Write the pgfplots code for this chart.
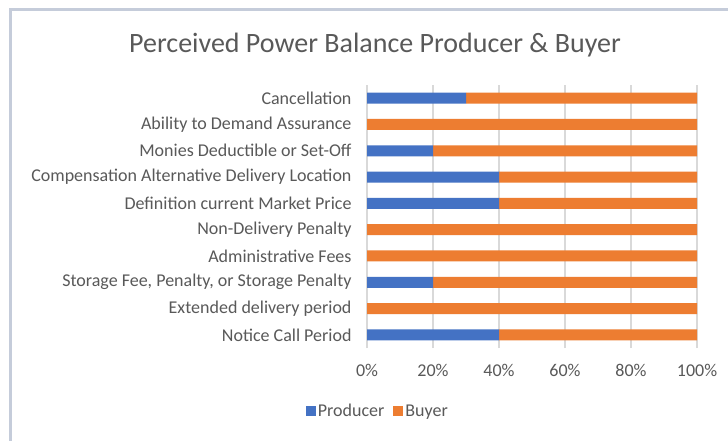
\documentclass[border=0pt]{standalone}
\usepackage{pgfplots}
\pgfplotsset{compat=1.18}
\usepackage{fontspec}
\setmainfont{Carlito}
\definecolor{prodblue}{HTML}{4472C4}
\definecolor{buyorange}{HTML}{ED7D31}
\definecolor{txtgray}{HTML}{595959}
\definecolor{gridgray}{HTML}{D9D9D9}
\definecolor{framegray}{HTML}{C5CCDA}
\begin{document}
\begin{tikzpicture}[x=1pt,y=1pt]
\useasboundingbox (0,0) rectangle (728,440);
\fill[white] (0,0) rectangle (728,440);
\draw[framegray, line width=2.5pt] (10.5,-20) -- (10.5,430.5) -- (760,430.5);
\node[txtgray, font=\fontsize{28}{32}\selectfont] at (375,395) {Perceived Power Balance Producer \& Buyer};
\begin{axis}[
    at={(367pt,92pt)}, anchor=south west,
    scale only axis, width=330pt, height=263pt,
    xbar stacked, bar width=11pt,
    xmin=0, xmax=100, ymin=-0.5, ymax=9.5,
    xtick={0,20,...,100},
    xticklabel={\pgfmathprintnumber{\tick}\%},
    /pgf/number format/assume math mode=true,
    ytick={0,...,9},
    yticklabels={Notice Call Period, Extended delivery period, {Storage Fee, Penalty, or Storage Penalty}, Administrative Fees, Non-Delivery Penalty, Definition current Market Price, Compensation Alternative Delivery Location, {Monies Deductible or Set-Off}, Ability to Demand Assurance, Cancellation},
    major tick length=0pt,
    axis line style={draw=none},
    xmajorgrids, grid style={gridgray, line width=1.6pt},
    ticklabel style={txtgray, font=\fontsize{18}{21}\selectfont},
    yticklabel style={xshift=-12pt},
    xticklabel style={yshift=-13pt},
    legend style={at={(0.033,-0.24)}, anchor=center, legend columns=2, draw=none,
        font=\fontsize{18}{21}\selectfont, text=txtgray,
        /tikz/every even column/.append style={column sep=7pt}},
    legend image code/.code={\fill[#1] (0pt,-5pt) rectangle (10pt,5pt);},
]
\addplot[fill=prodblue, draw=none] coordinates {(40,0) (0,1) (20,2) (0,3) (0,4) (40,5) (40,6) (20,7) (0,8) (30,9)};
\addplot[fill=buyorange, draw=none] coordinates {(60,0) (100,1) (80,2) (100,3) (100,4) (60,5) (60,6) (80,7) (100,8) (70,9)};
\legend{Producer, Buyer}
\end{axis}
\end{tikzpicture}
\end{document}
